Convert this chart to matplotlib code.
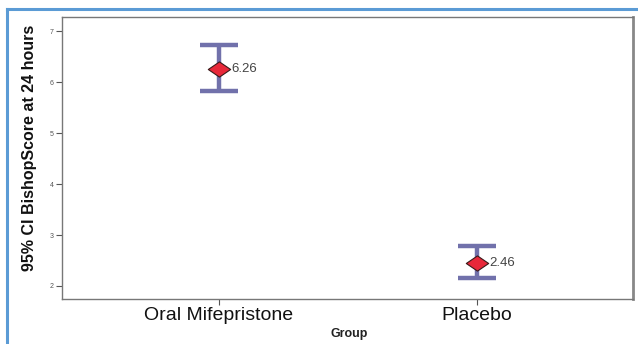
import matplotlib
matplotlib.use("Agg")
import matplotlib.pyplot as plt
from matplotlib.path import Path

groups = ["Oral Mifepristone", "Placebo"]
means = [6.26, 2.46]
ci_low = [5.83, 2.16]
ci_high = [6.72, 2.78]
y_ticks = [2, 3, 4, 5, 6, 7]

W, H, DPI = 638, 344, 100
fig = plt.figure(figsize=(W / DPI, H / DPI), dpi=DPI)
fig.patch.set_facecolor("white")

# blue panel border (top and left edges visible)
fig.add_artist(plt.Line2D([7 / W, 7 / W], [0, 1 - 9 / H], color="#5b9bd5", lw=2.2,
                          transform=fig.transFigure))
fig.add_artist(plt.Line2D([7 / W, 1], [1 - 9 / H, 1 - 9 / H], color="#5b9bd5", lw=2.2,
                          transform=fig.transFigure))

left, right, top, bottom = 62, 633, 17, 299
ax = fig.add_axes([left / W, 1 - bottom / H, (right - left) / W, (bottom - top) / H])

x = list(range(len(groups)))
err_lo = [m - l for m, l in zip(means, ci_low)]
err_hi = [h - m for m, h in zip(means, ci_high)]
ax.errorbar(x, means, yerr=[err_lo, err_hi], fmt="none", ecolor="#7171ab",
            elinewidth=3.2, capsize=14, capthick=3.2, zorder=2)

diamond = Path([(-1, 0), (0, 0.68), (1, 0), (0, -0.68), (-1, 0)],
               [Path.MOVETO, Path.LINETO, Path.LINETO, Path.LINETO, Path.CLOSEPOLY])
ax.scatter(x, means, marker=diamond, s=17 ** 2 * 0.9, facecolor="#e8283a",
           edgecolor="#3a1a1a", linewidth=0.8, zorder=3)

for xi, m in zip(x, means):
    ax.annotate(f"{m:.2f}", (xi, m), xytext=(9, 0), textcoords="offset points",
                va="center", ha="left", fontsize=9.5, color="#444444",
                family="Liberation Sans")

ax.set_xlim(-0.608, 1.605)
ax.set_ylim(1.745, 7.275)
ax.set_xticks(x)
ax.set_xticklabels(groups, fontsize=14, family="Liberation Sans", color="#111111")
ax.set_yticks(y_ticks)
ax.set_yticklabels([str(t) for t in y_ticks], fontsize=5, color="#555555",
                   family="Liberation Sans")
ax.tick_params(axis="y", length=4, width=0.8, color="#555555", pad=2)
ax.tick_params(axis="x", length=4, width=0.8, color="#555555", pad=2)

for side in ["left", "bottom", "top"]:
    ax.spines[side].set_color("#777777")
    ax.spines[side].set_linewidth(1.0)
ax.spines["right"].set_color("#888888")
ax.spines["right"].set_linewidth(2.0)

ax.set_ylabel("95% CI BishopScore at 24 hours", fontsize=11.5, fontweight="bold",
              family="Liberation Sans", color="#111111")
ax.yaxis.set_label_coords(-0.043, 0.535)
fig.text(349 / W, 1 - 334 / H, "Group", fontsize=9, fontweight="bold",
         family="Liberation Sans", color="#222222", ha="center", va="center")

fig.savefig("out.png", dpi=DPI, facecolor="white")
